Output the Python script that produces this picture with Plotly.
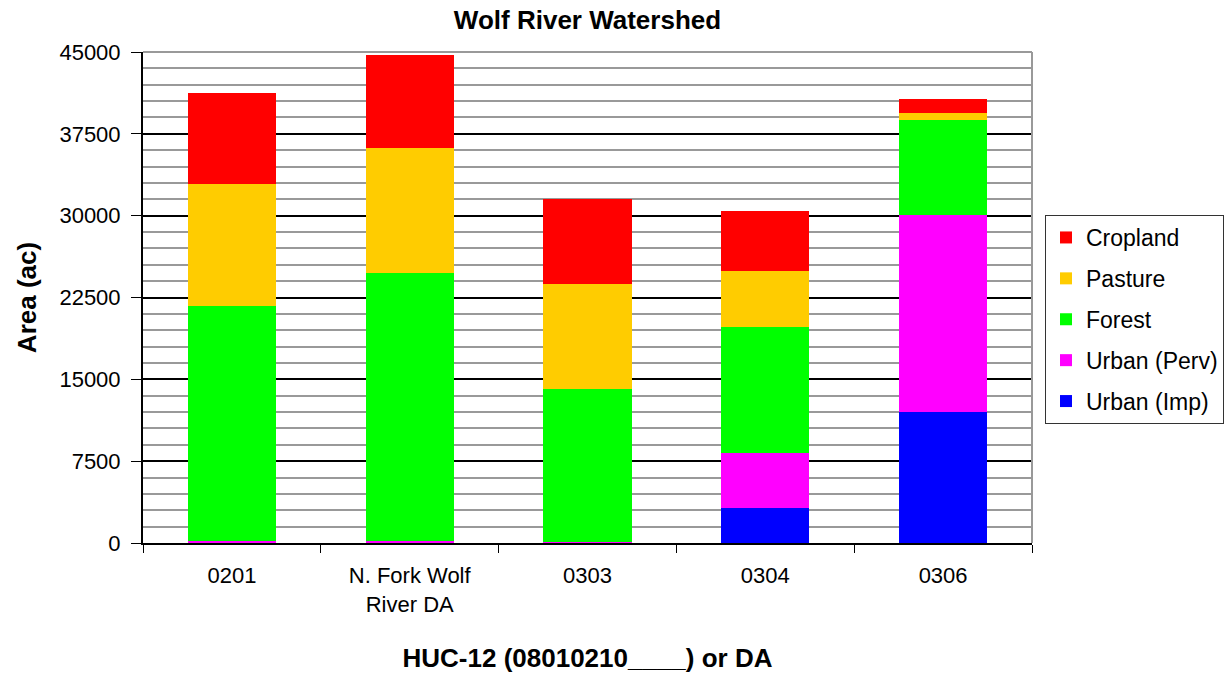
import plotly.graph_objects as go

categories = ["0201", "N. Fork Wolf<br>River DA", "0303", "0304", "0306"]
urban_imp = [30, 30, 10, 3210, 12000]
urban_perv = [130, 150, 40, 5040, 18060]
forest = [21560, 24570, 14060, 11550, 8710]
pasture = [11180, 11460, 9620, 5130, 640]
cropland = [8340, 8520, 7790, 5500, 1280]
y_ticks = [0, 7500, 15000, 22500, 30000, 37500, 45000]

series = [
    ("Urban (Imp)", urban_imp, "#0000FF"),
    ("Urban (Perv)", urban_perv, "#FF00FF"),
    ("Forest", forest, "#00FF00"),
    ("Pasture", pasture, "#FFCC00"),
    ("Cropland", cropland, "#FF0000"),
]

fig = go.Figure()
for i, (name, vals, col) in enumerate(series):
    fig.add_trace(go.Bar(x=categories, y=vals, name=name, marker_color=col,
                         marker_line_width=0, legendgroup=name,
                         legendrank=1000 + (len(series) - i)))

font = "Liberation Sans, Arial, sans-serif"
W, H = 1225, 675
L, R, T, B = 143, 193, 52, 132
fig.update_layout(
    barmode="stack",
    bargap=0.505,
    width=W, height=H,
    margin=dict(l=L, r=R, t=T, b=B, autoexpand=False),
    paper_bgcolor="white", plot_bgcolor="white",
    font=dict(family=font, size=22, color="black"),
    title=dict(text="<b>Wolf River Watershed</b>", x=(L + W - R) / 2 / W,
               xanchor="center", y=1 - 20 / H, yanchor="middle",
               font=dict(size=26, family=font)),
    legend=dict(x=(1045 - L) / (W - L - R), xanchor="left",
                y=(H - B - 215) / (H - T - B), yanchor="top",
                traceorder="grouped", tracegroupgap=8,
                bordercolor="#333333", borderwidth=1, font=dict(size=23, family=font),
                bgcolor="white"),
    showlegend=True,
)
fig.update_yaxes(
    range=[0, 45000], tickvals=y_ticks, ticktext=[str(v) for v in y_ticks],
    showgrid=True, gridcolor="black", gridwidth=1.5,
    minor=dict(dtick=1500, showgrid=True, gridcolor="#999999", gridwidth=2),
    ticks="outside", ticklen=10, tickcolor="black", ticklabelstandoff=6,
    showline=True, linecolor="black", linewidth=2,
    title=dict(text="<b>Area (ac)</b>", font=dict(size=26, family=font), standoff=15),
    zeroline=False,
)
fig.update_xaxes(
    tickson="boundaries", ticks="outside", ticklen=8, tickcolor="black",
    ticklabelstandoff=12,
    showline=True, linecolor="black", linewidth=1.5,
    title=dict(text="<b>HUC-12 (08010210____) or DA</b>", font=dict(size=26, family=font),
               standoff=33),
)
# plot-area border (top and right) in grey
fig.add_shape(type="line", xref="paper", yref="paper", x0=0, x1=1, y0=1, y1=1,
              line=dict(color="#999999", width=2))
fig.add_shape(type="line", xref="paper", yref="paper", x0=1, x1=1, y0=0, y1=1,
              line=dict(color="#999999", width=2))

fig.write_html("out.html", config={"displayModeBar": False},
               post_script="document.body.style.margin='0';document.body.style.padding='0';")
